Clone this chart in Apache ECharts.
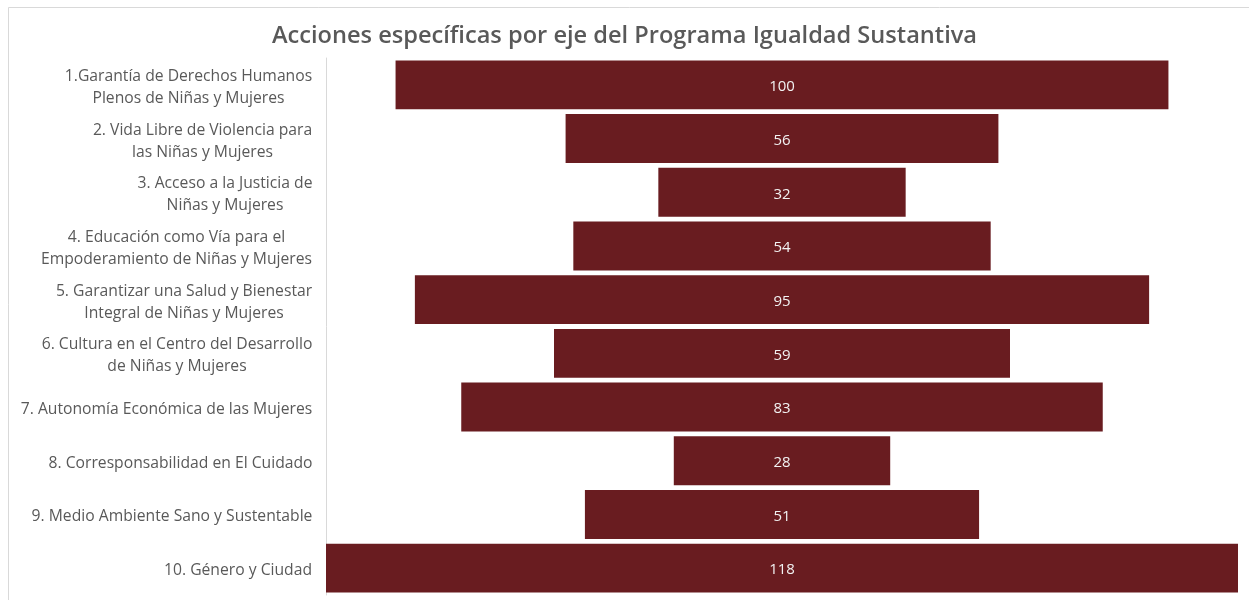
<!DOCTYPE html>
<html>
<head>
<meta charset="utf-8">
<script src="https://cdn.jsdelivr.net/npm/echarts@6/dist/echarts.min.js"></script>
<style>html,body{margin:0;padding:0;background:#fff;}#c{width:1249px;height:600px;}</style>
</head>
<body>
<div id="c"></div>
<script>
const categories = [
  "1.Garantía de Derechos Humanos\nPlenos de Niñas y Mujeres",
  "2. Vida Libre de Violencia para\nlas Niñas y Mujeres",
  "3. Acceso a la Justicia de\nNiñas y Mujeres",
  "4. Educación como Vía para el\nEmpoderamiento de Niñas y Mujeres",
  "5. Garantizar una Salud y Bienestar\nIntegral de Niñas y Mujeres",
  "6. Cultura en el Centro del Desarrollo\nde Niñas y Mujeres",
  "7. Autonomía Económica de las Mujeres",
  "8. Corresponsabilidad en El Cuidado",
  "9. Medio Ambiente Sano y Sustentable",
  "10. Género y Ciudad"
];
const values = [100, 56, 32, 54, 95, 59, 83, 28, 51, 118];
const maxValue = Math.max(...values);
const offsets = values.map(v => (maxValue - v) / 2);

const LABEL_FONT_SIZE = 15.7;
const LABEL_FONT = 'Open Sans';
const ctx = document.createElement('canvas').getContext('2d');
ctx.font = LABEL_FONT_SIZE + 'px "' + LABEL_FONT + '"';
const rich = {};
categories.forEach((c, i) => {
  const w = Math.ceil(Math.max(...c.split('\n').map(l => ctx.measureText(l).width))) + 1;
  rich['l' + i] = {
    width: w, align: 'center', color: '#595959',
    fontFamily: LABEL_FONT, fontSize: LABEL_FONT_SIZE, lineHeight: 22
  };
});

const chart = echarts.init(document.getElementById('c'));
chart.setOption({
  backgroundColor: '#fff',
  animation: false,
  title: {
    text: 'Acciones específicas por eje del Programa Igualdad Sustantiva',
    left: 'center',
    top: 19,
    textStyle: { fontFamily: 'Open Sans', fontWeight: 600, fontSize: 23.6, color: '#595959' }
  },
  graphic: [{
    type: 'rect', silent: true, z: -1,
    shape: { x: 8.5, y: 7.5, width: 1400, height: 800 },
    style: { fill: 'none', stroke: '#d9d9d9', lineWidth: 1 }
  }],
  grid: { left: 326, right: 11, top: 58, bottom: 5, containLabel: false },
  xAxis: { type: 'value', min: 0, max: maxValue, show: false },
  yAxis: {
    type: 'category',
    inverse: true,
    data: categories,
    axisLine: { show: true, lineStyle: { color: '#d9d9d9', width: 1 } },
    axisTick: { show: false },
    axisLabel: {
      margin: 13,
      color: '#595959',
      fontFamily: LABEL_FONT,
      fontSize: LABEL_FONT_SIZE,
      lineHeight: 22,
      align: 'right',
      verticalAlign: 'middle',
      padding: [5, 0, 0, 0],
      formatter: (value, index) => value.split('\n').map(l => '{l' + index + '|' + l + '}').join('\n'),
      rich: rich
    }
  },
  series: [
    {
      type: 'bar', stack: 'f', data: offsets,
      itemStyle: { color: 'transparent' },
      barCategoryGap: '9%', silent: true
    },
    {
      type: 'bar', stack: 'f', data: values,
      itemStyle: { color: '#691c20' },
      barCategoryGap: '9%',
      label: {
        show: true, position: 'inside', color: '#f2f2f2',
        fontFamily: 'Open Sans', fontSize: 15, offset: [0, 2]
      }
    }
  ]
});
</script>
</body>
</html>
